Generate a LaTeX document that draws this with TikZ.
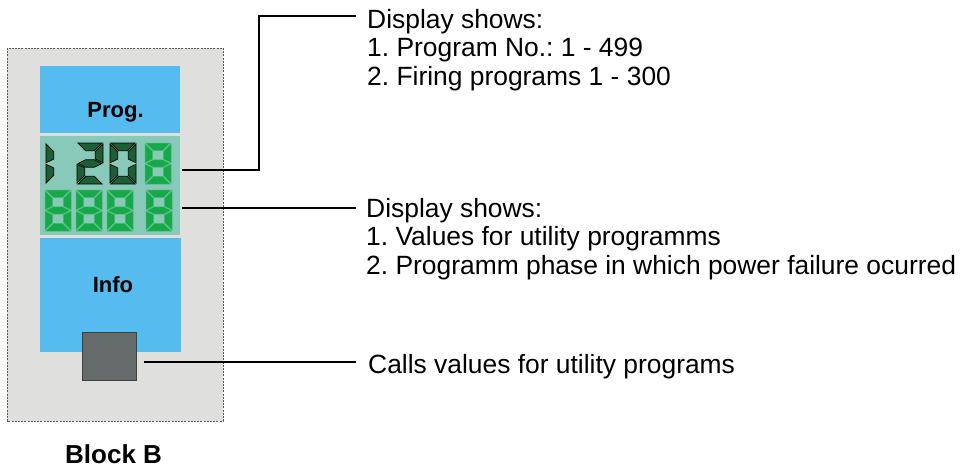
\documentclass[tikz,border=0pt]{standalone}
\usepackage{fontspec}
\setmainfont{Liberation Sans}
\frenchspacing
\definecolor{panelgray}{HTML}{DFDFDE}
\definecolor{keyblue}{HTML}{56BBEF}
\definecolor{lcdbg}{HTML}{88C9B9}
\definecolor{btngray}{HTML}{656B6B}
\definecolor{segdark}{HTML}{1D5E36}
\definecolor{seglit}{HTML}{18A84B}
\definecolor{seglitedge}{HTML}{3DBE68}
\def\segpath#1{%
  \if#1a (0.8,0)--(25.2,0)--(17.5,7.7)--(8.5,7.7)--cycle\fi
  \if#1b (26,0.8)--(26,19.8)--(18.3,16.1)--(18.3,8.5)--cycle\fi
  \if#1c (26,40.2)--(26,21.2)--(18.3,24.9)--(18.3,32.5)--cycle\fi
  \if#1d (0.8,41)--(25.2,41)--(17.5,33.3)--(8.5,33.3)--cycle\fi
  \if#1e (0,40.2)--(0,21.2)--(7.7,24.9)--(7.7,32.5)--cycle\fi
  \if#1f (0,0.8)--(0,19.8)--(7.7,16.1)--(7.7,8.5)--cycle\fi
  \if#1g (1.2,20.5)--(8.5,16.8)--(17.5,16.8)--(24.8,20.5)--(17.5,24.2)--(8.5,24.2)--cycle\fi}
\newcommand{\lcddigit}[3]{%
  \begin{scope}[shift={(#1)}]
    \foreach \s in {#2}{\path[#3] \segpath\s;}
  \end{scope}}
\begin{document}
\begin{tikzpicture}[x=1pt,y=-1pt,
  conn/.style={line width=1.6pt,black},
  txt/.style={anchor=base west,inner sep=0pt,font=\fontsize{26.4}{28}\selectfont},
  keylabel/.style={anchor=base,inner sep=0pt,font=\fontsize{22}{24}\selectfont\bfseries},
  darkseg/.style={fill=segdark,draw=black,line width=0.7pt},
  litseg/.style={fill=seglit,draw=seglitedge,line width=0.5pt}]
\useasboundingbox (0,0) rectangle (962,469);
% panel
\path[fill=panelgray,draw=black!65,line width=0.8pt,dash pattern=on 2pt off 1.2pt] (7,48) rectangle (223,421);
\node[inner sep=0pt,minimum width=140pt,minimum height=67pt,fill=keyblue,anchor=north west] (prog) at (40,66) {};
\node[inner sep=0pt,minimum width=140pt,minimum height=99pt,fill=lcdbg,anchor=north west] (disp) at (40,136) {};
\node[inner sep=0pt,minimum width=141pt,minimum height=114pt,fill=keyblue,anchor=north west] (info) at (40,238) {};
\node[inner sep=0pt,minimum width=54pt,minimum height=48pt,fill=btngray,draw=black!75,line width=1pt,anchor=north west] (btn) at (82,332) {};
\node[keylabel] (progtxt) at (115.5,117) {Prog.};
\node[keylabel] (infotxt) at (113,292) {Info};
% digits row 1
\lcddigit{46,143}{e,f}{darkseg}
\lcddigit{77,143}{a,b,g,e,d}{darkseg}
\lcddigit{110,143}{a,b,c,d,e,f}{darkseg}
\lcddigit{145,143}{a,b,c,d,e,f,g}{litseg}
% digits row 2
\lcddigit{45,190}{a,b,c,d,e,f,g}{litseg}
\lcddigit{76,190}{a,b,c,d,e,f,g}{litseg}
\lcddigit{107,190}{a,b,c,d,e,f,g}{litseg}
\lcddigit{146,190}{a,b,c,d,e,f,g}{litseg}
% texts
\node[txt] (t1a) at (367,28) {Display shows:};
\node[txt] (t1b) at (367,56.5) {1. Program No.: 1 - 499};
\node[txt] (t1c) at (367,85) {2. Firing programs 1 - 300};
\node[txt] (t2a) at (366,217) {Display shows:};
\node[txt] (t2b) at (366,245.5) {1. Values for utility programms};
\node[txt] (t2c) at (366,274) {2. Programm phase in which power failure ocurred};
\node[txt] (t3a) at (368,373) {Calls values for utility programs};
\node[anchor=base west,inner sep=0pt,font=\fontsize{26}{28}\selectfont\bfseries] (blk) at (65,463) {Block B};
% connectors
\coordinate (r1) at (182,170);
\coordinate (k1) at (259,16);
\coordinate (e1) at (356,16);
\coordinate (r2) at (182,208);
\coordinate (e2) at (356,208);
\coordinate (r3) at (btn.east|-0,362);
\coordinate (e3) at (356,362);
\draw[conn] (r1) -| (k1) -- (e1);
\draw[conn] (r2) -- (e2);
\draw[conn] ([xshift=7pt]r3) -- (e3);
\end{tikzpicture}
\end{document}
